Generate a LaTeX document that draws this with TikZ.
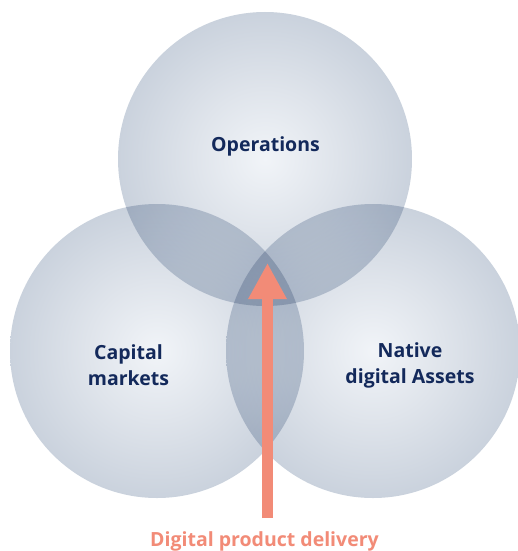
\documentclass[tikz,border=0pt]{standalone}
\usepackage{fontspec}
\setmainfont{Open Sans}
\usetikzlibrary{arrows.meta}
\definecolor{navy}{HTML}{13295B}
\definecolor{salmon}{HTML}{F28B77}
\definecolor{cinner}{HTML}{F1F4F8}
\definecolor{cmid}{HTML}{DFE4EB}
\definecolor{couter}{HTML}{CAD2DD}
\pgfdeclareradialshading{bubble}{\pgfpointorigin}{%
  color(0bp)=(cinner); color(12bp)=(cmid); color(25bp)=(couter); color(50bp)=(couter)}
\tikzset{
  bubble/.style={shading=bubble, blend mode=multiply},
  lbl/.style={text=navy, font=\fontsize{19.5}{26}\selectfont\bfseries, align=center, inner sep=0pt, anchor=base},
  bottomlbl/.style={text=salmon, font=\fontsize{19.5}{26}\selectfont\bfseries, inner sep=0pt, anchor=base},
  bigarrow/.style={draw=salmon, line width=11pt, -{Triangle[width=36pt,length=36pt]}}
}
\begin{document}
\begin{tikzpicture}[x=1pt,y=-1pt]
\useasboundingbox (0,0) rectangle (518,551);
\fill[white] (0,0) rectangle (518,551);
\coordinate (ctop) at (265,159);
\coordinate (cleft) at (157,351);
\coordinate (cright) at (373,351);
\shade[bubble] (ctop) circle[radius=147pt];
\shade[bubble] (cleft) circle[radius=147pt];
\shade[bubble] (cright) circle[radius=147pt];
\coordinate (tail) at (267.5,518);
\coordinate (tip) at (267.5,263);
\draw[bigarrow] (tail) -- (tip);
\node[lbl] (ops) at (265.5,151) {Operations};
\node[lbl] (cap) at (128.5,385) {Capital\\markets};
\node[lbl] (nat) at (410,383) {Native\\digital Assets};
\node[bottomlbl] (dpd) at (264.5,546) {Digital product delivery};
\end{tikzpicture}
\end{document}
